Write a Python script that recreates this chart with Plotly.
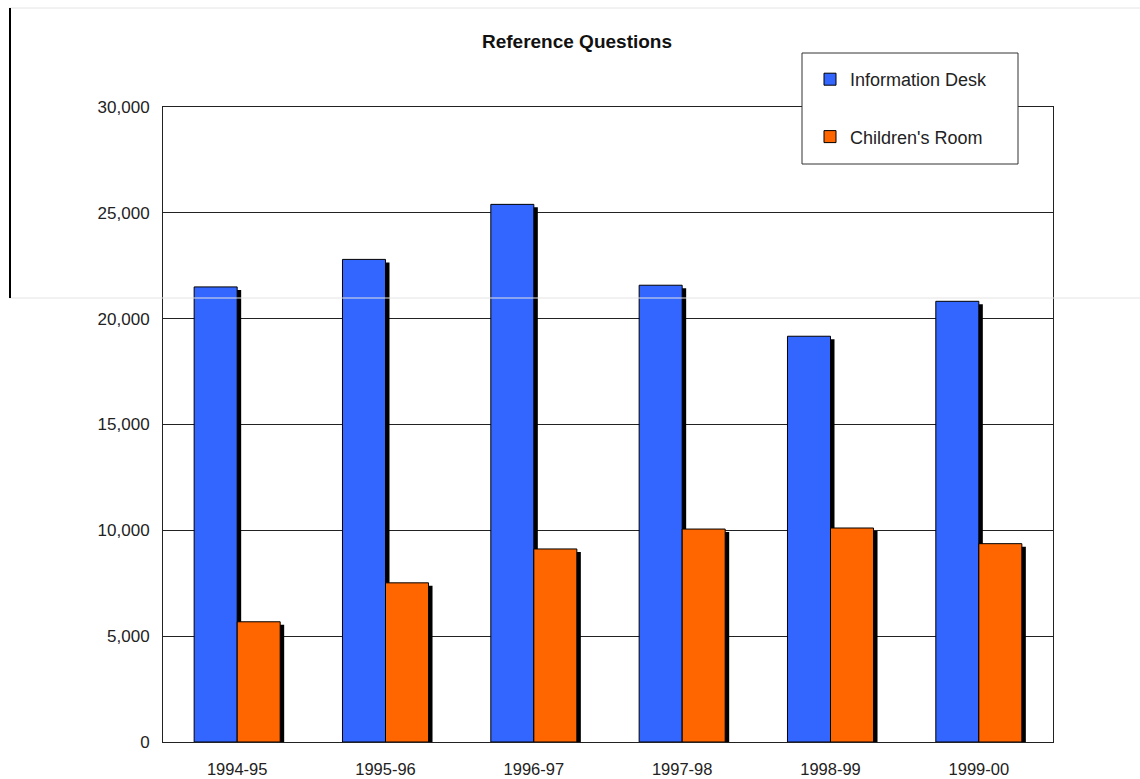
import plotly.graph_objects as go

# Fiscal years and yearly counts of reference questions
years = ["1994-95", "1995-96", "1996-97", "1997-98", "1998-99", "1999-00"]
info_desk = [21500, 22800, 25400, 21580, 19170, 20820]
childrens_room = [5680, 7520, 9120, 10060, 10110, 9370]

y_ticks = [0, 5000, 10000, 15000, 20000, 25000, 30000]

BLUE = "#3366FF"
ORANGE = "#FF6600"

W, H = 1140, 779
ML, MR, MT, MB = 163, 87, 107, 37
PW, PH = W - ML - MR, H - MT - MB
Y_MAX = 30000
X_RANGE = [-0.5, len(years) - 0.5]

x_pos = list(range(len(years)))
bar_w = 0.29

# drop-shadow offset, expressed in axis units
dx = 4 * (X_RANGE[1] - X_RANGE[0]) / PW
dy = 3 * Y_MAX / PH


def px_x(p):
    return (p - ML) / PW


def px_y(p):
    return (H - MB - p) / PH


fig = go.Figure()

# shadows first so the coloured bars sit on top
for vals, off in [(info_desk, -bar_w), (childrens_room, 0.0)]:
    fig.add_trace(go.Bar(
        x=x_pos, y=vals, base=[-dy] * len(vals),
        offset=off + dx, width=bar_w,
        marker=dict(color="black", line=dict(width=0)),
        showlegend=False, hoverinfo="skip",
    ))

fig.add_trace(go.Bar(
    x=x_pos, y=info_desk, name="Information Desk",
    offset=-bar_w, width=bar_w, legendgroup="a",
    marker=dict(color=BLUE, line=dict(color="black", width=1)),
))
fig.add_trace(go.Bar(
    x=x_pos, y=childrens_room, name="Children's Room",
    offset=0.0, width=bar_w, legendgroup="b",
    marker=dict(color=ORANGE, line=dict(color="black", width=1)),
))

shapes = [
    # outer frame fragments
    dict(type="line", xref="paper", yref="paper",
         x0=px_x(9), x1=px_x(1140), y0=px_y(8), y1=px_y(8),
         line=dict(color="#e4e4e4", width=1)),
    dict(type="line", xref="paper", yref="paper",
         x0=px_x(9), x1=px_x(1140), y0=px_y(298), y1=px_y(298),
         line=dict(color="#e4e4e4", width=1)),
    dict(type="line", xref="paper", yref="paper",
         x0=px_x(10), x1=px_x(10), y0=px_y(8), y1=px_y(298),
         line=dict(color="black", width=2)),
    # legend box
    dict(type="rect", xref="paper", yref="paper", layer="above",
         x0=px_x(802), x1=px_x(1018), y0=px_y(53), y1=px_y(164),
         fillcolor="white", line=dict(color="#333333", width=1)),
]

fig.update_layout(
    width=W, height=H,
    margin=dict(l=ML, r=MR, t=MT, b=MB, pad=0, autoexpand=False),
    paper_bgcolor="white", plot_bgcolor="white",
    barmode="overlay",
    font=dict(family="Liberation Sans, Arial, sans-serif", size=17, color="#222222"),
    title=dict(
        text="<b>Reference Questions</b>",
        x=577 / W, xanchor="center",
        y=1 - 41 / H, yanchor="middle",
        font=dict(size=19, color="#111111"),
    ),
    showlegend=True,
    legend=dict(
        x=px_x(810), xanchor="left",
        y=px_y(61), yanchor="top",
        bgcolor="rgba(0,0,0,0)", borderwidth=0,
        traceorder="grouped", tracegroupgap=31,
        font=dict(size=18, color="#222222"),
    ),
    shapes=shapes,
    xaxis=dict(
        range=X_RANGE, tickmode="array", tickvals=x_pos, ticktext=years,
        showgrid=False, zeroline=False, automargin=False,
        showline=True, linecolor="#222222", linewidth=1, mirror=True,
        ticks="", ticklabelstandoff=12,
        tickfont=dict(size=16.5),
    ),
    yaxis=dict(
        range=[0, Y_MAX], tickmode="array", tickvals=y_ticks,
        tickformat=",d", automargin=False,
        showgrid=True, gridcolor="#222222", gridwidth=1,
        zeroline=False,
        showline=True, linecolor="#222222", linewidth=1, mirror=True,
        ticks="", ticklabelstandoff=9,
        tickfont=dict(size=17),
    ),
)

fig.write_html("out.html")
